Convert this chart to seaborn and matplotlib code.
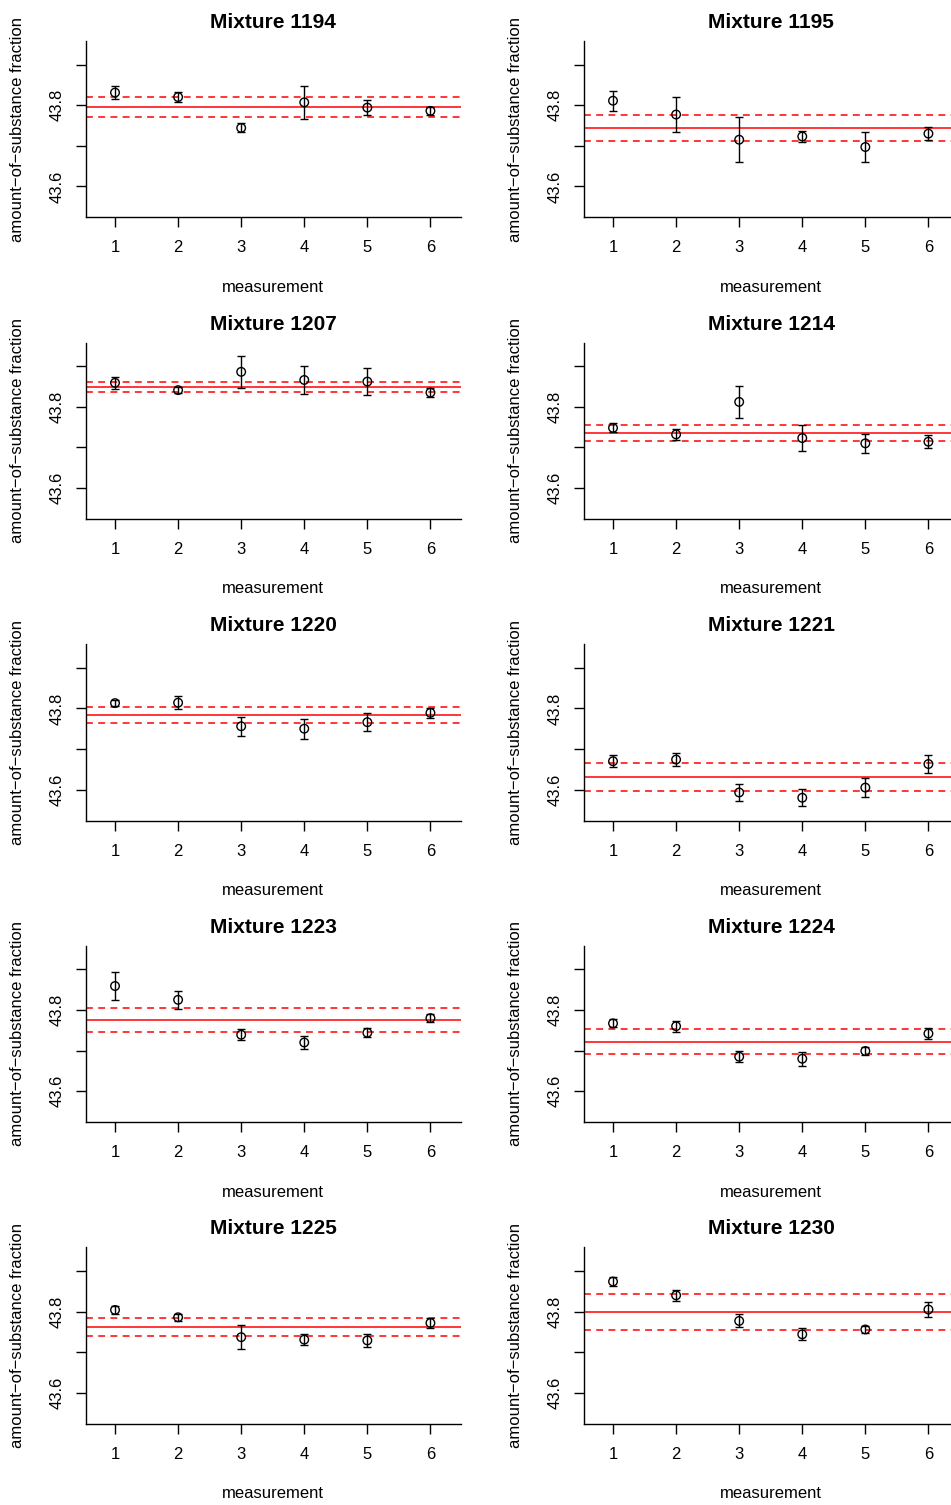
import numpy as np
import pandas as pd
import seaborn as sns
import matplotlib.pyplot as plt

# mixtures shown, two per row
mixtures = ["1194", "1195", "1207", "1214", "1220", "1221", "1223", "1224", "1225", "1230"]
measurement = [1, 2, 3, 4, 5, 6]

val_1194 = [43.831, 43.820, 43.744, 43.807, 43.794, 43.786]
err_1194 = [0.017, 0.012, 0.011, 0.041, 0.018, 0.009]
val_1195 = [43.811, 43.777, 43.715, 43.723, 43.697, 43.730]
err_1195 = [0.025, 0.042, 0.055, 0.013, 0.038, 0.016]
val_1207 = [43.859, 43.841, 43.886, 43.866, 43.862, 43.835]
err_1207 = [0.014, 0.008, 0.040, 0.035, 0.034, 0.012]
val_1214 = [43.748, 43.732, 43.812, 43.723, 43.710, 43.714]
err_1214 = [0.011, 0.013, 0.039, 0.033, 0.023, 0.016]
val_1220 = [43.813, 43.814, 43.756, 43.750, 43.766, 43.789]
err_1220 = [0.008, 0.016, 0.024, 0.025, 0.022, 0.012]
val_1221 = [43.670, 43.674, 43.593, 43.580, 43.605, 43.663]
err_1221 = [0.015, 0.016, 0.020, 0.021, 0.023, 0.023]
val_1223 = [43.859, 43.825, 43.739, 43.720, 43.744, 43.780]
err_1223 = [0.035, 0.022, 0.013, 0.016, 0.011, 0.010]
val_1224 = [43.767, 43.760, 43.685, 43.680, 43.699, 43.742]
err_1224 = [0.010, 0.013, 0.013, 0.017, 0.010, 0.013]
val_1225 = [43.804, 43.786, 43.737, 43.731, 43.729, 43.772]
err_1225 = [0.010, 0.008, 0.030, 0.014, 0.016, 0.013]
val_1230 = [43.874, 43.840, 43.777, 43.744, 43.756, 43.805]
err_1230 = [0.012, 0.013, 0.016, 0.015, 0.009, 0.018]

# consensus value (solid red) and its half-width (dashed red)
ref_mean = [43.796, 43.744, 43.849, 43.735, 43.784, 43.631, 43.775, 43.722, 43.762, 43.799]
ref_half = [0.025, 0.031, 0.013, 0.019, 0.019, 0.035, 0.029, 0.031, 0.021, 0.045]

all_vals = [val_1194, val_1195, val_1207, val_1214, val_1220,
            val_1221, val_1223, val_1224, val_1225, val_1230]
all_errs = [err_1194, err_1195, err_1207, err_1214, err_1220,
            err_1221, err_1223, err_1224, err_1225, err_1230]

rows = []
for m, v, e in zip(mixtures, all_vals, all_errs):
    for k, vv, ee in zip(measurement, v, e):
        rows.append({"mixture": m, "measurement": k, "value": vv, "err": ee})
df = pd.DataFrame(rows)

sns.set_style("ticks")
plt.rcParams["font.family"] = ["Liberation Sans", "DejaVu Sans"]
plt.rcParams["text.color"] = "black"
plt.rcParams["axes.labelcolor"] = "black"
plt.rcParams["xtick.color"] = "black"
plt.rcParams["ytick.color"] = "black"

W, H = 951, 1505
fig = plt.figure(figsize=(W / 100, H / 100), dpi=100)

col_x = [86, 584]
ax_w = 374.7
ax_h = 176.3
row_top = 41
row_step = 301.6

for i, m in enumerate(mixtures):
    r, c = divmod(i, 2)
    top = row_top + r * row_step
    ax = fig.add_axes([col_x[c] / W, 1 - (top + ax_h) / H, ax_w / W, ax_h / H])
    sub = df[df["mixture"] == m]

    ax.axhline(ref_mean[i], color="red", lw=1.1, zorder=1)
    ax.axhline(ref_mean[i] + ref_half[i], color="red", lw=1.1, ls=(0, (4.5, 3.5)), zorder=1)
    ax.axhline(ref_mean[i] - ref_half[i], color="red", lw=1.1, ls=(0, (4.5, 3.5)), zorder=1)

    ax.errorbar(sub["measurement"], sub["value"], yerr=sub["err"], fmt="none",
                ecolor="black", elinewidth=1.0, capsize=2.6, capthick=1.0, zorder=2)
    sns.scatterplot(data=sub, x="measurement", y="value", ax=ax, color="black",
                    s=38, marker="o", linewidth=1.0, zorder=3, legend=False)
    pts = ax.collections[-1]
    pts.set_facecolor("none")
    pts.set_edgecolor("black")

    ax.set_xlim(0.54, 6.48)
    ax.set_ylim(43.524, 43.958)
    ax.set_xticks(measurement)
    ax.set_xticklabels([str(k) for k in measurement])
    ax.set_yticks([43.6, 43.7, 43.8, 43.9])
    ax.set_yticklabels(["43.6", "", "43.8", ""], rotation=90, va="center")

    ax.tick_params(axis="x", length=7.2, width=1.0, labelsize=12, pad=9.5)
    ax.tick_params(axis="y", length=7.2, width=1.0, labelsize=12, pad=8.0)
    for s in ["top", "right"]:
        ax.spines[s].set_visible(False)
    for s in ["left", "bottom"]:
        ax.spines[s].set_linewidth(1.0)
        ax.spines[s].set_color("black")

    ax.set_title(f"Mixture {m}", fontsize=15, fontweight="bold", pad=9.4)
    ax.set_xlabel("measurement", fontsize=12, va="center")
    ax.set_ylabel("amount\u2212of\u2212substance fraction", fontsize=12, va="center")
    ax.xaxis.set_label_coords(0.5, -70 / ax_h)
    ax.yaxis.set_label_coords(-68.5 / ax_w, 0.5)

fig.savefig("out.png", dpi=100)
